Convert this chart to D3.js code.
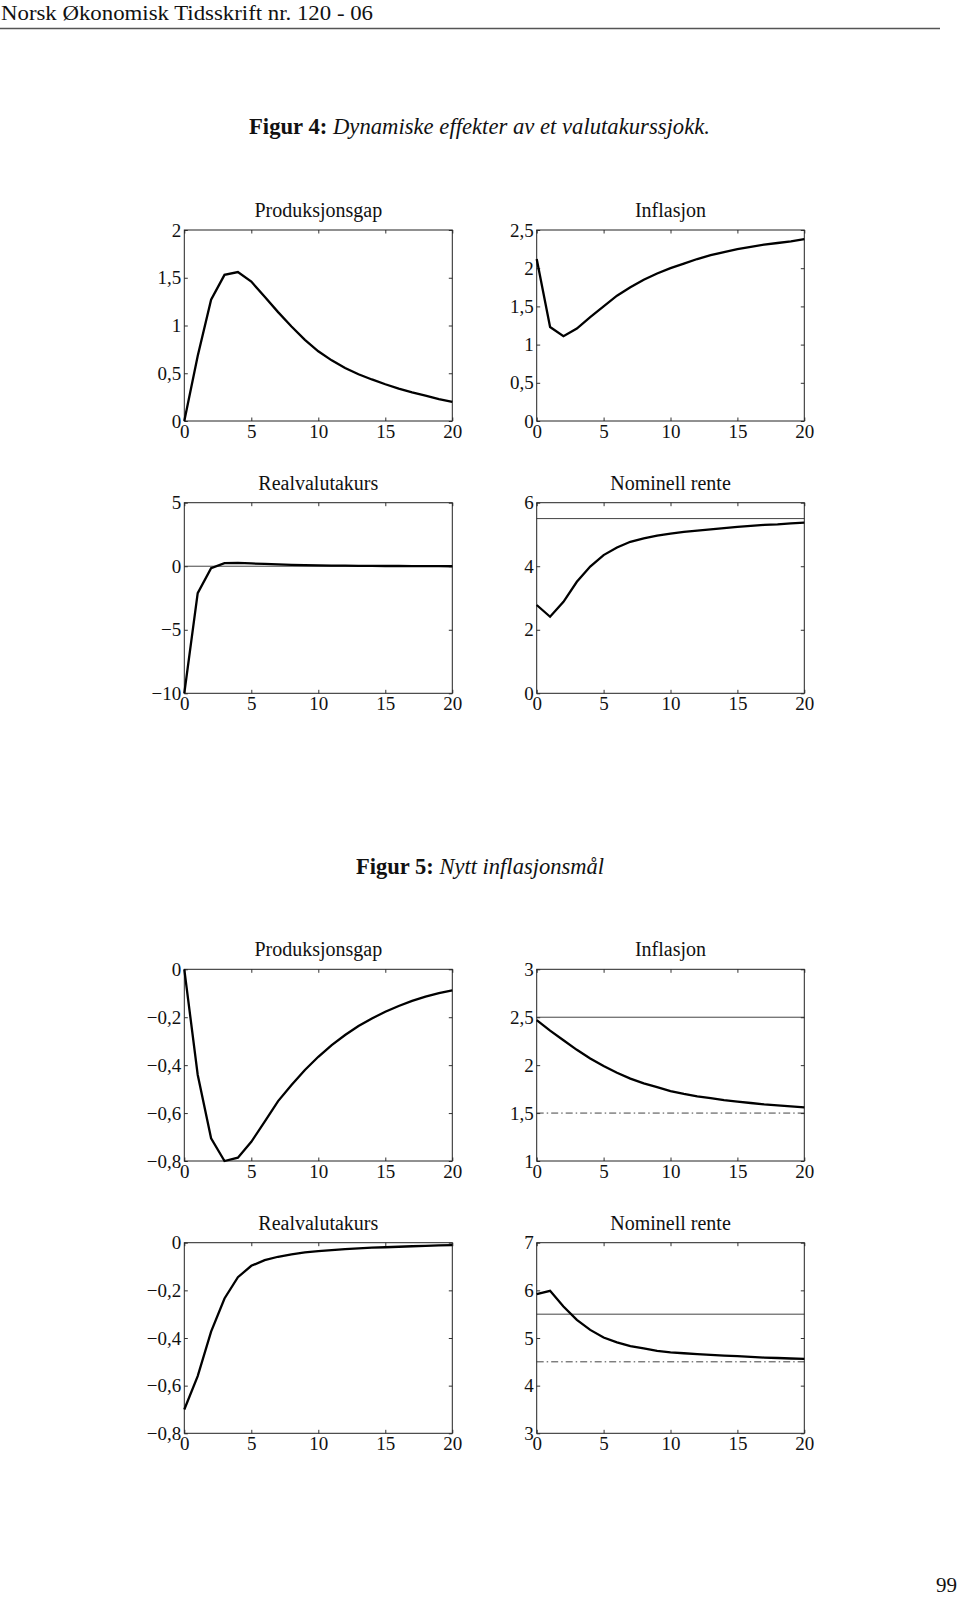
<!DOCTYPE html>
<html>
<head>
<meta charset="utf-8">
<script src="https://cdn.jsdelivr.net/npm/d3@7/dist/d3.min.js"></script>
<style>
  html, body { margin: 0; padding: 0; background: #fff; }
  svg { display: block; }
  text { font-family: "Liberation Serif", "Times New Roman", serif; fill: #111; }
</style>
</head>
<body>
<svg id="page" width="960" height="1604"></svg>
<script>
// ---- data ----
const periods = [0,1,2,3,4,5,6,7,8,9,10,11,12,13,14,15,16,17,18,19,20];
const xTicks = [0,5,10,15,20];

const fig4Produksjonsgap = [0,0.68,1.27,1.53,1.56,1.46,1.30,1.14,0.99,0.85,0.73,0.635,0.555,0.49,0.435,0.385,0.34,0.30,0.265,0.23,0.20];
const fig4Inflasjon = [2.12,1.23,1.11,1.21,1.36,1.50,1.64,1.75,1.85,1.93,2.00,2.06,2.12,2.17,2.21,2.25,2.28,2.31,2.33,2.35,2.38];
const fig4Realvalutakurs = [-10,-2.12,-0.16,0.24,0.26,0.22,0.18,0.14,0.11,0.08,0.06,0.05,0.04,0.03,0.03,0.02,0.02,0.01,0.01,0.01,0.0];
const fig4NominellRente = [2.78,2.41,2.88,3.51,3.99,4.35,4.59,4.77,4.88,4.96,5.03,5.08,5.12,5.16,5.20,5.24,5.27,5.30,5.32,5.35,5.37];

const fig5Produksjonsgap = [0,-0.44,-0.705,-0.80,-0.786,-0.72,-0.636,-0.55,-0.483,-0.42,-0.365,-0.316,-0.274,-0.237,-0.205,-0.177,-0.153,-0.132,-0.114,-0.099,-0.088];
const fig5Inflasjon = [2.47,2.36,2.26,2.16,2.07,1.99,1.92,1.86,1.81,1.77,1.73,1.70,1.675,1.655,1.635,1.62,1.605,1.59,1.58,1.57,1.56];
const fig5Realvalutakurs = [-0.70,-0.56,-0.373,-0.234,-0.145,-0.097,-0.073,-0.059,-0.049,-0.041,-0.035,-0.031,-0.027,-0.024,-0.021,-0.019,-0.017,-0.015,-0.013,-0.011,-0.010];
const fig5NominellRente = [5.92,5.99,5.66,5.38,5.17,5.01,4.91,4.83,4.78,4.73,4.70,4.68,4.66,4.645,4.63,4.62,4.605,4.59,4.58,4.57,4.56];

const titles = ["Produksjonsgap","Inflasjon","Realvalutakurs","Nominell rente"];
const yDomains4 = [[0,2],[0,2.5],[-10,5],[0,6]];
const yTicks4 = [[0,0.5,1,1.5,2],[0,0.5,1,1.5,2,2.5],[-10,-5,0,5],[0,2,4,6]];
const refSolid4 = [[],[],[0],[5.5]];
const refDash4 = [[],[],[],[]];

const yDomains5 = [[-0.8,0],[1,3],[-0.8,0],[3,7]];
const yTicks5 = [[-0.8,-0.6,-0.4,-0.2,0],[1,1.5,2,2.5,3],[-0.8,-0.6,-0.4,-0.2,0],[3,4,5,6,7]];
const refSolid5 = [[],[2.5],[],[5.5]];
const refDash5 = [[],[1.5],[],[4.5]];

const headerText = "Norsk Økonomisk Tidsskrift nr. 120 - 06";
const pageNumber = "99";

// ---- layout ----
const svg = d3.select("#page");
const colX = [[184.3, 452.3], [536.7, 804.3]];
const rowY = [[230, 421], [502.7, 693.3], [969.3, 1161], [1242.7, 1433.3]];

const fmt = v => {
  let s = String(+v.toFixed(2));
  s = s.replace(".", ",");
  if (s.startsWith("-")) s = "\u2212" + s.slice(1);
  return s;
};

// header
svg.append("text").attr("x", 1).attr("y", 20).attr("font-size", 22)
  .attr("textLength", 372).attr("lengthAdjust", "spacingAndGlyphs").text(headerText);
svg.append("line").attr("x1", 0).attr("x2", 940).attr("y1", 28.5).attr("y2", 28.5)
  .attr("stroke", "#555").attr("stroke-width", 1.6);

// figure titles
function figTitle(x, y, bold, ital, len) {
  const t = svg.append("text").attr("x", x).attr("y", y).attr("font-size", 22.5)
    .attr("textLength", len).attr("lengthAdjust", "spacingAndGlyphs");
  t.append("tspan").attr("font-weight", "bold").text(bold);
  t.append("tspan").attr("font-style", "italic").text(ital);
}
figTitle(249, 134, "Figur 4: ", "Dynamiske effekter av et valutakurssjokk.", 461);
figTitle(356, 874, "Figur 5: ", "Nytt inflasjonsmål", 248);

// page number
svg.append("text").attr("x", 957).attr("y", 1592).attr("font-size", 21)
  .attr("text-anchor", "end").text(pageNumber);

function panel(xr, yr, title, data, yDomain, yTicks, refSolid, refDash) {
  const x = d3.scaleLinear().domain([0, 20]).range(xr);
  const y = d3.scaleLinear().domain(yDomain).range([yr[1], yr[0]]);
  const g = svg.append("g");

  // reference lines
  refSolid.forEach(v => g.append("line")
    .attr("x1", xr[0]).attr("x2", xr[1]).attr("y1", y(v)).attr("y2", y(v))
    .attr("stroke", "#444").attr("stroke-width", 1));
  refDash.forEach(v => g.append("line")
    .attr("x1", xr[0]).attr("x2", xr[1]).attr("y1", y(v)).attr("y2", y(v))
    .attr("stroke", "#444").attr("stroke-width", 1)
    .attr("stroke-dasharray", "7,3,1.5,3"));

  // axes: inner ticks on all four sides
  const tl = 3.5;
  g.append("g").attr("transform", `translate(0,${yr[1]})`)
    .call(d3.axisBottom(x).tickValues(xTicks).tickSizeInner(-tl).tickSizeOuter(0).tickFormat(fmt))
    .call(s => { s.select(".domain").remove();
      s.selectAll("text").attr("font-size", 19).attr("font-family", "Liberation Serif").attr("fill", "#111").attr("dy", "0.71em").attr("y", 3); });
  g.append("g").attr("transform", `translate(0,${yr[0]})`)
    .call(d3.axisTop(x).tickValues(xTicks).tickSizeInner(-tl).tickSizeOuter(0).tickFormat(""))
    .call(s => s.select(".domain").remove());
  g.append("g").attr("transform", `translate(${xr[0]},0)`)
    .call(d3.axisLeft(y).tickValues(yTicks).tickSizeInner(-tl).tickSizeOuter(0).tickFormat(fmt))
    .call(s => { s.select(".domain").remove();
      s.selectAll("text").attr("font-size", 19).attr("font-family", "Liberation Serif").attr("fill", "#111").attr("x", -3); });
  g.append("g").attr("transform", `translate(${xr[1]},0)`)
    .call(d3.axisRight(y).tickValues(yTicks).tickSizeInner(-tl).tickSizeOuter(0).tickFormat(""))
    .call(s => s.select(".domain").remove());
  g.selectAll(".tick line").attr("stroke", "#333");

  // frame
  g.append("rect").attr("x", xr[0]).attr("y", yr[0])
    .attr("width", xr[1] - xr[0]).attr("height", yr[1] - yr[0])
    .attr("fill", "none").attr("stroke", "#222").attr("stroke-width", 1);

  // data line
  const line = d3.line().x((d, i) => x(periods[i])).y(d => y(d));
  g.append("path").datum(data).attr("d", line)
    .attr("fill", "none").attr("stroke", "#000").attr("stroke-width", 2.3)
    .attr("stroke-linejoin", "miter");

  // title
  g.append("text").attr("x", (xr[0] + xr[1]) / 2).attr("y", yr[0] - 13)
    .attr("text-anchor", "middle").attr("font-size", 20).text(title);
}

const fig4 = [fig4Produksjonsgap, fig4Inflasjon, fig4Realvalutakurs, fig4NominellRente];
const fig5 = [fig5Produksjonsgap, fig5Inflasjon, fig5Realvalutakurs, fig5NominellRente];
for (let i = 0; i < 4; i++) {
  const c = i % 2, r = Math.floor(i / 2);
  panel(colX[c], rowY[r], titles[i], fig4[i], yDomains4[i], yTicks4[i], refSolid4[i], refDash4[i]);
  panel(colX[c], rowY[r + 2], titles[i], fig5[i], yDomains5[i], yTicks5[i], refSolid5[i], refDash5[i]);
}
</script>
</body>
</html>
